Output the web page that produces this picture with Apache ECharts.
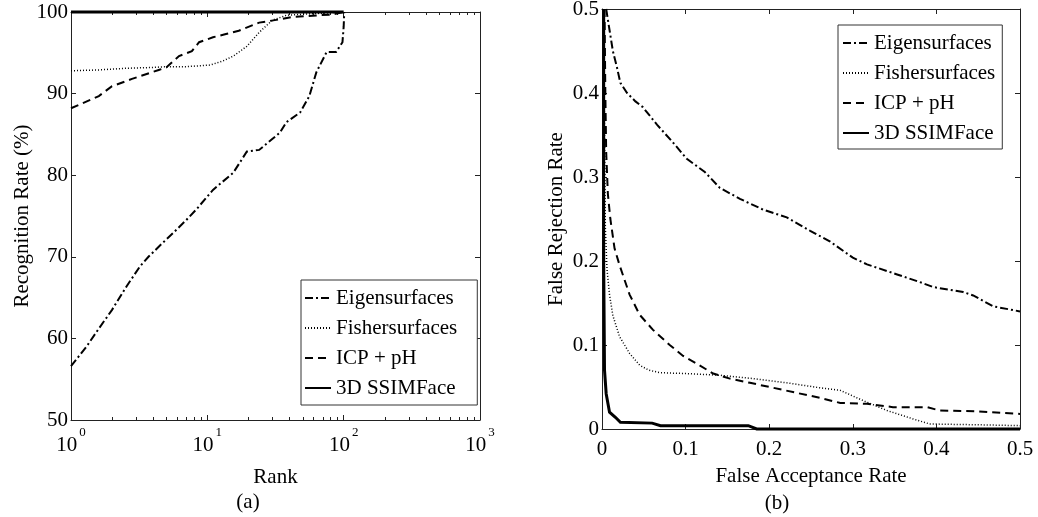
<!DOCTYPE html>
<html><head><meta charset="utf-8">
<script src="https://cdn.jsdelivr.net/npm/echarts@6/dist/echarts.min.js"></script>
<style>html,body{margin:0;padding:0;background:#fff}#c{width:1038px;height:517px}</style>
</head><body><div id="c"></div>
<script>
// ---------- data ----------
const seriesNames = ['Eigensurfaces', 'Fishersurfaces', 'ICP + pH', '3D SSIMFace'];

// (a) CMC: [rank, recognition rate %]
const cmcEigen = [[1,56.6],[1.3,59.0],[1.6,61.2],[2.0,63.5],[2.56,66.4],[3.2,68.8],[3.7,70.0],[4.7,71.7],[5.6,72.9],[7.0,74.5],[8.3,75.8],[11,78.2],[15.5,80.3],[19.5,82.9],[24,83.1],[34,85.2],[38,86.5],[48,87.7],[56,89.7],[63,92.6],[75,95.1],[88,95.1],[98,96.3],[100,98.2],[101,100]];
const cmcFisher = [[1,92.8],[1.6,92.9],[2.5,93.1],[3.9,93.2],[5,93.3],[7,93.3],[10.5,93.5],[13,94.0],[15.5,94.6],[19.5,95.8],[24,97.5],[30,99.0],[38,99.6],[60,99.8],[100,100]];
const cmcIcp = [[1,88.2],[1.6,89.7],[2.0,90.9],[2.8,91.8],[4.4,92.9],[5.0,93.2],[6.2,94.6],[7.7,95.2],[8.7,96.3],[11,96.9],[13.7,97.3],[17,97.7],[24,98.7],[34,99.1],[42,99.4],[83,99.7],[100,100]];
const cmcSsim = [[1,100],[100,100]];

// (b) ROC: [false acceptance rate, false rejection rate]
const rocEigen = [[0.005,0.5],[0.009,0.475],[0.013,0.45],[0.018,0.43],[0.022,0.412],[0.030,0.400],[0.040,0.390],[0.049,0.383],[0.066,0.362],[0.085,0.341],[0.101,0.322],[0.123,0.306],[0.141,0.287],[0.165,0.274],[0.193,0.261],[0.221,0.252],[0.249,0.236],[0.273,0.223],[0.300,0.204],[0.317,0.196],[0.353,0.184],[0.380,0.175],[0.396,0.169],[0.432,0.163],[0.444,0.159],[0.468,0.146],[0.5,0.140]];
const rocFisher = [[0.002,0.5],[0.003,0.35],[0.004,0.24],[0.006,0.19],[0.009,0.16],[0.013,0.135],[0.021,0.11],[0.033,0.09],[0.045,0.076],[0.056,0.07],[0.07,0.067],[0.1,0.066],[0.141,0.064],[0.181,0.060],[0.221,0.055],[0.261,0.049],[0.285,0.046],[0.312,0.034],[0.341,0.022],[0.372,0.012],[0.392,0.006],[0.45,0.005],[0.5,0.004]];
const rocIcp = [[0.003,0.5],[0.004,0.4],[0.005,0.33],[0.007,0.28],[0.010,0.25],[0.015,0.215],[0.021,0.195],[0.033,0.16],[0.045,0.136],[0.061,0.118],[0.081,0.100],[0.097,0.087],[0.113,0.078],[0.133,0.066],[0.153,0.060],[0.177,0.055],[0.205,0.049],[0.233,0.043],[0.261,0.037],[0.285,0.031],[0.317,0.030],[0.348,0.026],[0.389,0.026],[0.404,0.022],[0.45,0.021],[0.5,0.018]];
const rocSsim = [[0.002,0.5],[0.002,0.2],[0.003,0.07],[0.005,0.042],[0.009,0.02],[0.016,0.014],[0.022,0.008],[0.06,0.007],[0.07,0.004],[0.175,0.004],[0.185,0.0],[0.5,0.0]];

// ticks
const rateTicks = [50, 60, 70, 80, 90, 100];
const rankDecades = [1, 10, 100, 1000];
const rankMinor = [2,3,4,5,6,7,8,9,20,30,40,50,60,70,80,90,200,300,400,500,600,700,800,900];
const rocTicks = [0, 0.1, 0.2, 0.3, 0.4, 0.5];

// ---------- chart ----------
const FONT = 'Liberation Serif';
const INK = '#000';
const BOX = '#222';
const styles = {
  'Eigensurfaces': {type: [8, 3, 2, 3], width: 2},
  'Fishersurfaces': {type: [1, 2], width: 1.5},
  'ICP + pH': {type: [8, 5], width: 2},
  '3D SSIMFace': {type: 'solid', width: 3}
};
function lineSeries(name, data, gi) {
  return {
    type: 'line', name: name, data: data,
    xAxisIndex: gi * 2, yAxisIndex: gi * 2,
    symbol: 'none', showSymbol: false, clip: false, animation: false,
    lineStyle: {color: INK, width: styles[name].width, type: styles[name].type, cap: 'butt', join: 'miter'},
    itemStyle: {color: INK},
    emphasis: {disabled: true}, silent: true
  };
}
function valAxis(o) {
  return Object.assign({
    type: 'value', splitLine: {show: false},
    axisLine: {show: true, onZero: false, lineStyle: {color: BOX, width: 1}},
    axisTick: {show: true, inside: true, length: 5, lineStyle: {color: BOX}},
    axisLabel: {color: INK, fontFamily: FONT, fontSize: 21, margin: 4, showMinLabel: true, showMaxLabel: true},
    nameTextStyle: {color: INK, fontFamily: FONT, fontSize: 21}
  }, o);
}
const step = (arr) => +(arr[1] - arr[0]).toFixed(6);

const xLogBottom = valAxis({
  type: 'log', logBase: 10, gridIndex: 0, position: 'bottom',
  min: rankDecades[0], max: rankDecades[rankDecades.length - 1],
  name: 'Rank', nameLocation: 'middle', nameGap: 47,
  axisLabel: {
    showMinLabel: true, showMaxLabel: true, margin: 6,
    formatter: function (v) { return '{s|\u200b}{b|10}{e|' + Math.round(Math.log10(v)) + '}'; },
    rich: {
      s: {fontFamily: FONT, fontSize: 12, lineHeight: 30, width: 0},
      b: {fontFamily: FONT, fontSize: 21, color: INK, lineHeight: 21, verticalAlign: 'bottom'},
      e: {fontFamily: FONT, fontSize: 13, color: INK, lineHeight: 12, verticalAlign: 'top', padding: [0, 0, 0, 2]}
    }
  }
});
const xLogTop = valAxis({
  type: 'log', logBase: 10, gridIndex: 0, position: 'top',
  min: rankDecades[0], max: rankDecades[rankDecades.length - 1],
  axisLabel: {show: false}
});
const legendBase = {
  data: seriesNames, orient: 'vertical', align: 'left',
  itemGap: 6, itemWidth: 26, itemHeight: 14,
  backgroundColor: '#fff', borderColor: '#333', borderWidth: 1, borderRadius: 0,
  selectedMode: false,
  itemStyle: {opacity: 0, borderWidth: 0},
  textStyle: {color: INK, fontFamily: FONT, fontSize: 21, lineHeight: 24}
};

const option = {
  backgroundColor: '#fff',
  animation: false,
  textStyle: {fontFamily: FONT},
  grid: [
    {left: 71, right: 558, top: 12, bottom: 97, containLabel: false, outerBoundsMode: 'none'},
    {left: 602, right: 18, top: 9, bottom: 88, containLabel: false, outerBoundsMode: 'none'}
  ],
  xAxis: [
    xLogBottom,
    xLogTop,
    valAxis({gridIndex: 1, position: 'bottom', min: rocTicks[0], max: rocTicks[rocTicks.length - 1], interval: step(rocTicks),
      name: 'False Acceptance Rate', nameLocation: 'middle', nameGap: 37,
      axisLabel: {color: INK, fontFamily: FONT, fontSize: 21, margin: 10, showMinLabel: true, showMaxLabel: true}}),
    valAxis({gridIndex: 1, position: 'top', min: rocTicks[0], max: rocTicks[rocTicks.length - 1], interval: step(rocTicks), axisLabel: {show: false}})
  ],
  yAxis: [
    valAxis({gridIndex: 0, position: 'left', min: rateTicks[0], max: rateTicks[rateTicks.length - 1], interval: step(rateTicks),
      name: 'Recognition Rate (%)', nameLocation: 'middle', nameGap: 38,
      axisLabel: {color: INK, fontFamily: FONT, fontSize: 21, margin: 3, showMinLabel: true, showMaxLabel: true}}),
    valAxis({gridIndex: 0, position: 'right', min: rateTicks[0], max: rateTicks[rateTicks.length - 1], interval: step(rateTicks), axisLabel: {show: false}}),
    valAxis({gridIndex: 1, position: 'left', min: rocTicks[0], max: rocTicks[rocTicks.length - 1], interval: step(rocTicks),
      name: 'False Rejection Rate', nameLocation: 'middle', nameGap: 35,
      axisLabel: {color: INK, fontFamily: FONT, fontSize: 21, margin: 3, showMinLabel: true, showMaxLabel: true}}),
    valAxis({gridIndex: 1, position: 'right', min: rocTicks[0], max: rocTicks[rocTicks.length - 1], interval: step(rocTicks), axisLabel: {show: false}})
  ],
  legend: [
    Object.assign({}, legendBase, {left: 301, top: 280, padding: [6, 20, 5, 3]}),
    Object.assign({}, legendBase, {left: 838, top: 25, padding: [6, 7, 4, 4]})
  ],
  graphic: [
    {type: 'text', x: 248, y: 502, silent: true,
     style: {text: '(a)', fill: INK, fontFamily: FONT, fontSize: 21, align: 'center', verticalAlign: 'middle'}},
    {type: 'text', x: 777, y: 503, silent: true,
     style: {text: '(b)', fill: INK, fontFamily: FONT, fontSize: 21, align: 'center', verticalAlign: 'middle'}}
  ],
  series: [
    lineSeries('Eigensurfaces', cmcEigen, 0),
    lineSeries('Fishersurfaces', cmcFisher, 0),
    lineSeries('ICP + pH', cmcIcp, 0),
    lineSeries('3D SSIMFace', cmcSsim, 0),
    lineSeries('Eigensurfaces', rocEigen, 1),
    lineSeries('Fishersurfaces', rocFisher, 1),
    lineSeries('ICP + pH', rocIcp, 1),
    lineSeries('3D SSIMFace', rocSsim, 1),
    {
      type: 'custom', name: 'minor ticks', xAxisIndex: 0, yAxisIndex: 0, silent: true, clip: false, animation: false,
      data: rankMinor.map(function (r) { return [r, rateTicks[0]]; }),
      renderItem: function (params, api) {
        const x = api.value(0);
        const pb = api.coord([x, rateTicks[0]]);
        const pt = api.coord([x, rateTicks[rateTicks.length - 1]]);
        const px = Math.round(pb[0]) + 0.5;
        return {type: 'group', children: [
          {type: 'line', shape: {x1: px, y1: pb[1], x2: px, y2: pb[1] - 3}, style: {stroke: BOX, lineWidth: 1}},
          {type: 'line', shape: {x1: px, y1: pt[1], x2: px, y2: pt[1] + 3}, style: {stroke: BOX, lineWidth: 1}}
        ]};
      }
    }
  ]
};
const chart = echarts.init(document.getElementById('c'), null, {renderer: 'canvas'});
chart.setOption(option);
</script>
</body></html>
